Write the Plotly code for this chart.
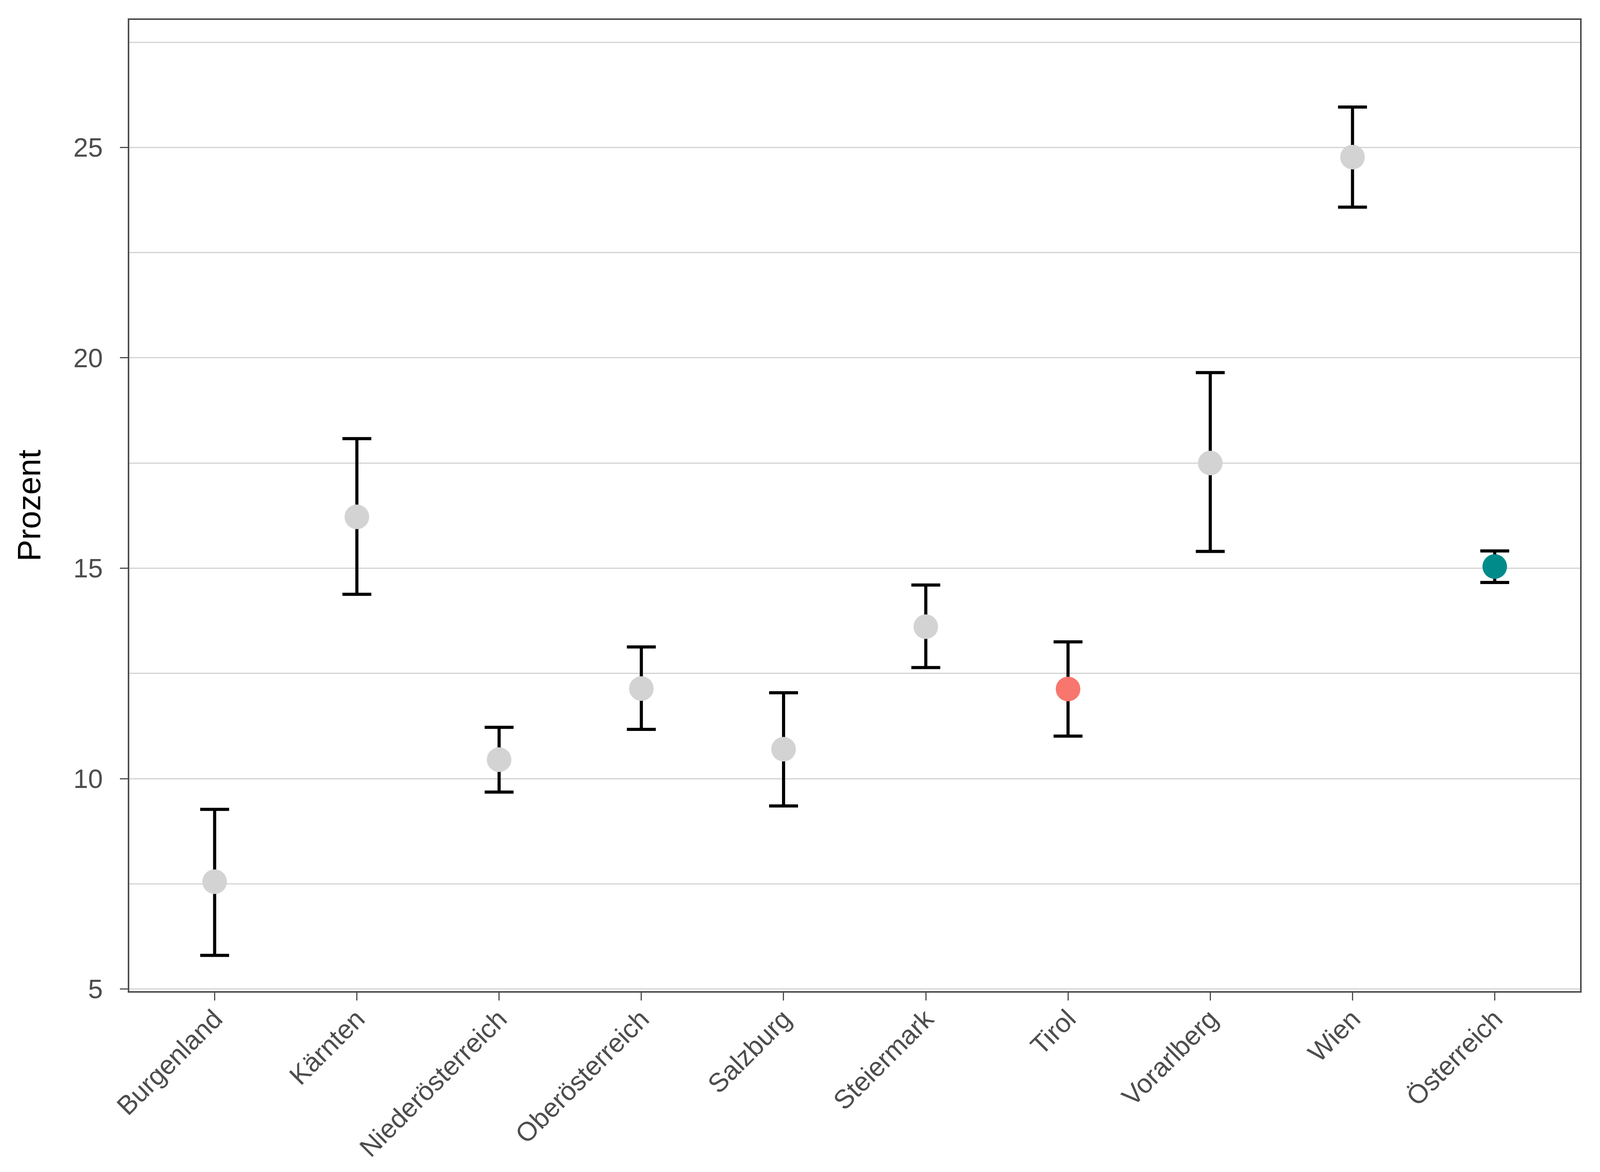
import plotly.graph_objects as go

# Anteil je Bundesland mit Konfidenzintervall
regions = [
    "Burgenland", "Kärnten", "Niederösterreich", "Oberösterreich", "Salzburg",
    "Steiermark", "Tirol", "Vorarlberg", "Wien", "Österreich",
]
estimate = [7.55, 16.22, 10.45, 12.14, 10.70, 13.61, 12.13, 17.50, 24.77, 15.04]
ci_lower = [5.80, 14.38, 9.68, 11.17, 9.35, 12.64, 11.01, 15.40, 23.58, 14.66]
ci_upper = [9.27, 18.08, 11.22, 13.13, 12.04, 14.60, 13.25, 19.65, 25.96, 15.41]
point_colors = [
    "#D3D3D3", "#D3D3D3", "#D3D3D3", "#D3D3D3", "#D3D3D3",
    "#D3D3D3", "#F8766D", "#D3D3D3", "#D3D3D3", "#008B8B",
]

FONT = "Liberation Sans, Arial, sans-serif"
FRAME = "#4D4D4D"

fig = go.Figure()

fig.add_trace(
    go.Scatter(
        x=regions,
        y=estimate,
        mode="markers",
        marker=dict(size=63, color=point_colors, line=dict(width=0)),
        error_y=dict(
            type="data",
            symmetric=False,
            array=[u - e for u, e in zip(ci_upper, estimate)],
            arrayminus=[e - l for e, l in zip(estimate, ci_lower)],
            color="black",
            thickness=8,
            width=37,
        ),
        showlegend=False,
    )
)

# width left open so the figure follows the browser window
fig.update_layout(
    height=3000,
    autosize=True,
    paper_bgcolor="white",
    plot_bgcolor="white",
    margin=dict(l=323, r=43, t=43, b=471),
    font=dict(family=FONT),
    xaxis=dict(
        type="category",
        range=[-0.6, 9.6],
        showgrid=False,
        showline=True,
        mirror=True,
        linecolor=FRAME,
        linewidth=4,
        ticks="outside",
        ticklen=20,
        tickwidth=3,
        tickcolor=FRAME,
        tickangle=-45,
        tickfont=dict(size=68, color="#4D4D4D", family=FONT),
        ticklabelstandoff=-20,
        zeroline=False,
    ),
    yaxis=dict(
        range=[4.95, 28.03],
        tick0=5,
        dtick=5,
        showgrid=True,
        gridcolor="#D3D3D3",
        gridwidth=3,
        minor=dict(dtick=2.5, tick0=5, showgrid=True, gridcolor="#D3D3D3", gridwidth=3),
        showline=True,
        mirror=True,
        linecolor=FRAME,
        linewidth=4,
        ticks="outside",
        ticklen=20,
        tickwidth=3,
        tickcolor=FRAME,
        tickfont=dict(size=68, color="#4D4D4D", family=FONT),
        ticklabelstandoff=30,
        zeroline=False,
        title=dict(
            text="Prozent",
            font=dict(size=83, color="black", family=FONT),
            standoff=58,
        ),
    ),
)

fig.write_html("out.html")
